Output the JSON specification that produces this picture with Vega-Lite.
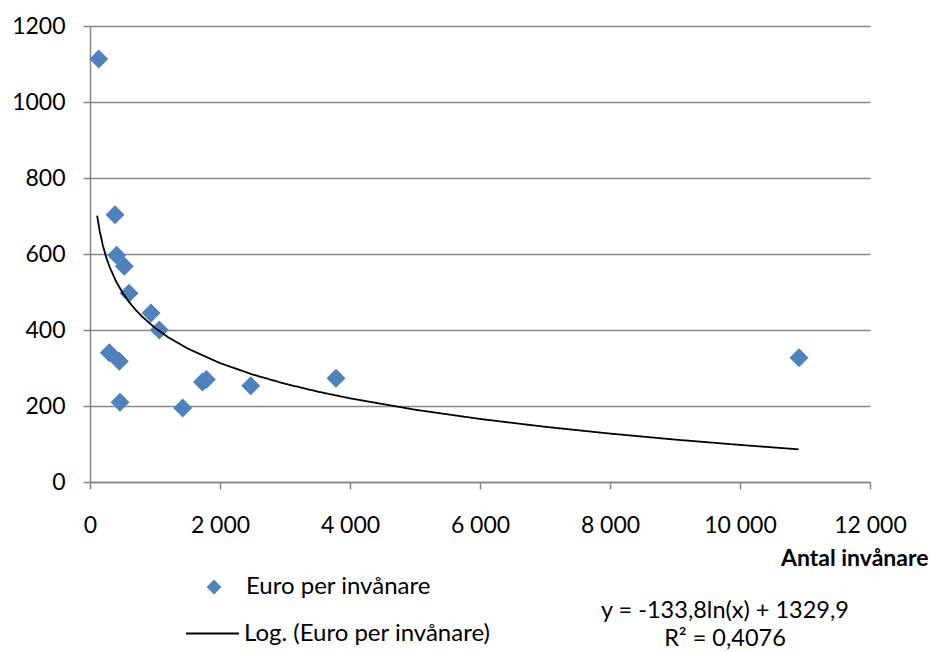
{
  "$schema": "https://vega.github.io/schema/vega-lite/v6.json",
  "autosize": "none",
  "width": 780,
  "height": 456,
  "padding": {"left": 90, "top": 26, "right": 60, "bottom": 170},
  "background": "white",
  "config": {
    "locale": {"number": {"decimal": ",", "thousands": " ", "grouping": [3], "currency": ["", ""]}},
    "font": "Lato",
    "view": {"stroke": null},
    "axis": {"labelFont": "Lato", "labelFontSize": 23, "labelColor": "black", "domainColor": "#868686", "tickColor": "#868686", "gridColor": "#868686", "domainWidth": 1.5, "tickWidth": 1.5, "gridWidth": 1.5, "tickSize": 7},
    "legend": {"labelFont": "Lato", "labelFontSize": 24, "labelColor": "black", "labelLimit": 500}
  },
  "datasets": {
    "points": [
      {"antal": 135, "euro": 1113, "series": "Euro per invånare"},
      {"antal": 385, "euro": 703, "series": "Euro per invånare"},
      {"antal": 410, "euro": 597, "series": "Euro per invånare"},
      {"antal": 528, "euro": 568, "series": "Euro per invånare"},
      {"antal": 600, "euro": 497, "series": "Euro per invånare"},
      {"antal": 938, "euro": 445, "series": "Euro per invånare"},
      {"antal": 1066, "euro": 400, "series": "Euro per invånare"},
      {"antal": 297, "euro": 340, "series": "Euro per invånare"},
      {"antal": 451, "euro": 318, "series": "Euro per invånare"},
      {"antal": 462, "euro": 210, "series": "Euro per invånare"},
      {"antal": 1426, "euro": 195, "series": "Euro per invånare"},
      {"antal": 1730, "euro": 263, "series": "Euro per invånare"},
      {"antal": 1790, "euro": 270, "series": "Euro per invånare"},
      {"antal": 2473, "euro": 253, "series": "Euro per invånare"},
      {"antal": 3785, "euro": 273, "series": "Euro per invånare"},
      {"antal": 10908, "euro": 327, "series": "Euro per invånare"}
    ],
    "trend": [
      {"antal": 110, "euro": 701.0, "trend": "Log. (Euro per invånare)"},
      {"antal": 150, "euro": 659.5, "trend": "Log. (Euro per invånare)"},
      {"antal": 200, "euro": 621.0, "trend": "Log. (Euro per invånare)"},
      {"antal": 250, "euro": 591.1, "trend": "Log. (Euro per invånare)"},
      {"antal": 300, "euro": 566.7, "trend": "Log. (Euro per invånare)"},
      {"antal": 400, "euro": 528.2, "trend": "Log. (Euro per invånare)"},
      {"antal": 500, "euro": 498.4, "trend": "Log. (Euro per invånare)"},
      {"antal": 600, "euro": 474.0, "trend": "Log. (Euro per invånare)"},
      {"antal": 700, "euro": 453.4, "trend": "Log. (Euro per invånare)"},
      {"antal": 800, "euro": 435.5, "trend": "Log. (Euro per invånare)"},
      {"antal": 1000, "euro": 405.6, "trend": "Log. (Euro per invånare)"},
      {"antal": 1200, "euro": 381.2, "trend": "Log. (Euro per invånare)"},
      {"antal": 1500, "euro": 351.4, "trend": "Log. (Euro per invånare)"},
      {"antal": 2000, "euro": 312.9, "trend": "Log. (Euro per invånare)"},
      {"antal": 2500, "euro": 283.0, "trend": "Log. (Euro per invånare)"},
      {"antal": 3000, "euro": 258.6, "trend": "Log. (Euro per invånare)"},
      {"antal": 3500, "euro": 238.0, "trend": "Log. (Euro per invånare)"},
      {"antal": 4000, "euro": 220.2, "trend": "Log. (Euro per invånare)"},
      {"antal": 5000, "euro": 190.3, "trend": "Log. (Euro per invånare)"},
      {"antal": 6000, "euro": 165.9, "trend": "Log. (Euro per invånare)"},
      {"antal": 7000, "euro": 145.3, "trend": "Log. (Euro per invånare)"},
      {"antal": 8000, "euro": 127.4, "trend": "Log. (Euro per invånare)"},
      {"antal": 9000, "euro": 111.6, "trend": "Log. (Euro per invånare)"},
      {"antal": 10000, "euro": 97.6, "trend": "Log. (Euro per invånare)"},
      {"antal": 10900, "euro": 86.0, "trend": "Log. (Euro per invånare)"}
    ]
  },
  "layer": [
    {
      "data": {"name": "points"},
      "mark": {"type": "point", "shape": "diamond", "filled": true, "size": 360, "opacity": 1},
      "encoding": {
        "x": {"field": "antal", "type": "quantitative", "scale": {"domain": [0, 12000], "nice": false},
          "axis": {"title": "Antal invånare", "format": ",d", "values": [0, 2000, 4000, 6000, 8000, 10000, 12000], "grid": false, "labelPadding": 25, "labelFlush": false,
            "titleFont": "Lato", "titleFontSize": 23, "titleFontWeight": "bold", "titleColor": "black", "titleAnchor": "end", "titleAlign": "right", "titleBaseline": "middle", "titleX": 838, "titleY": 76}},
        "y": {"field": "euro", "type": "quantitative", "scale": {"domain": [0, 1200], "nice": false},
          "axis": {"title": null, "format": "d", "values": [0, 200, 400, 600, 800, 1000, 1200], "grid": true, "labelPadding": 18}},
        "color": {"field": "series", "type": "nominal", "scale": {"range": ["#4f81bd"]},
          "legend": {"title": null, "orient": "none", "legendX": 112, "legendY": 549, "symbolType": "diamond", "symbolSize": 220, "labelOffset": 20}}
      }
    },
    {
      "data": {"name": "trend"},
      "mark": {"type": "line", "color": "black", "strokeWidth": 1.8},
      "encoding": {
        "x": {"field": "antal", "type": "quantitative"},
        "y": {"field": "euro", "type": "quantitative"},
        "strokeDash": {"field": "trend", "type": "nominal", "scale": {"range": [[1, 0]]},
          "legend": {"title": null, "orient": "none", "legendX": 95, "legendY": 580, "symbolType": "stroke", "symbolStrokeColor": "black", "symbolStrokeWidth": 1.8, "symbolSize": 2800, "labelOffset": 4}}
      }
    },
    {
      "data": {"values": [{}]},
      "mark": {"type": "text", "align": "center", "baseline": "middle", "fontSize": 23.5, "font": "Lato", "color": "black", "lineHeight": 28},
      "encoding": {
        "x": {"datum": 9769},
        "y": {"datum": -339},
        "text": {"value": ["y = -133,8ln(x) + 1329,9", "R² = 0,4076"]}
      }
    }
  ]
}
